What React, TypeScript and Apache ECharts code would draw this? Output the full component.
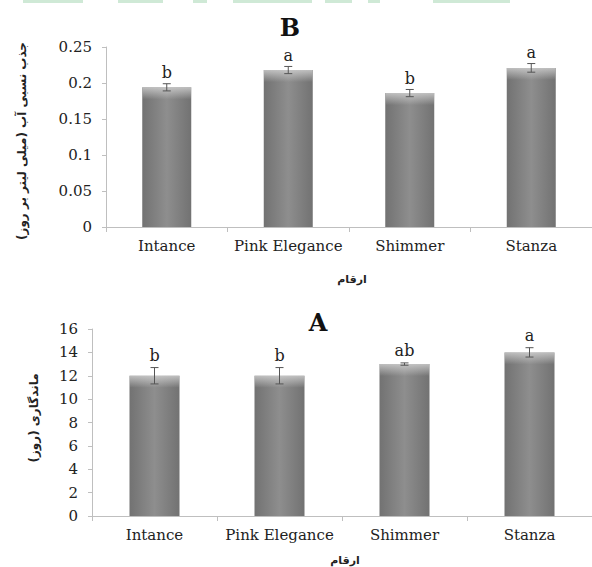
import React, { useEffect, useRef } from "react";
import * as echarts from "echarts";

const categories = ["Intance", "Pink Elegance", "Shimmer", "Stanza"];

// Chart B: relative water uptake
const uptakeValues = [0.194, 0.218, 0.186, 0.221];
const uptakeErrors = [0.005, 0.005, 0.005, 0.006];
const uptakeLetters = ["b", "a", "b", "a"];
const uptakeTicks = { min: 0, max: 0.25, interval: 0.05 };

// Chart A: vase life (days)
const lifeValues = [12, 12, 13, 14];
const lifeErrors = [0.7, 0.7, 0.1, 0.4];
const lifeLetters = ["b", "b", "ab", "a"];
const lifeTicks = { min: 0, max: 16, interval: 2 };

const serif = "DejaVu Serif";
const persian = "DejaVu Sans";

const barColor = new echarts.graphic.LinearGradient(0, 0, 1, 0, [
  { offset: 0, color: "#727272" },
  { offset: 0.5, color: "#8e8e8e" },
  { offset: 1, color: "#727272" },
]);

function errorSeries(values: number[], errors: number[], letters: string[], xIdx: number, gap: number) {
  return {
    type: "custom",
    xAxisIndex: xIdx,
    yAxisIndex: xIdx,
    z: 5,
    data: values.map((v, i) => [i, v, errors[i]]),
    encode: { x: 0, y: 1 },
    renderItem: (params: any, api: any) => {
      const i = api.value(0);
      const v = api.value(1);
      const e = api.value(2);
      const top = api.coord([i, v + e]);
      const bot = api.coord([i, v - e]);
      const mid = api.coord([i, v]);
      const bw = api.size([1, 0])[0] * 0.4;
      const cap = 4;
      return {
        type: "group",
        children: [
          {
            type: "rect",
            shape: { x: mid[0] - bw / 2, y: mid[1], width: bw, height: 12 },
            style: {
              fill: new echarts.graphic.LinearGradient(0, 0, 0, 1, [
                { offset: 0, color: "rgba(215,215,215,0.75)" },
                { offset: 1, color: "rgba(215,215,215,0)" },
              ]),
            },
          },
          { type: "line", shape: { x1: top[0], y1: top[1], x2: bot[0], y2: bot[1] }, style: { stroke: "#555", lineWidth: 1 } },
          { type: "line", shape: { x1: top[0] - cap, y1: top[1], x2: top[0] + cap, y2: top[1] }, style: { stroke: "#555", lineWidth: 1 } },
          { type: "line", shape: { x1: bot[0] - cap, y1: bot[1], x2: bot[0] + cap, y2: bot[1] }, style: { stroke: "#555", lineWidth: 1 } },
          {
            type: "text",
            x: top[0],
            y: top[1] - gap,
            style: {
              text: letters[params.dataIndex],
              font: `16px '${serif}'`,
              fill: "#222",
              align: "center",
              verticalAlign: "bottom",
            },
          },
        ],
      };
    },
  };
}

const greenStrips = [
  [23, 60], [118, 45], [193, 14], [233, 79], [325, 27], [368, 12], [433, 77],
];

export default function App() {
  const ref = useRef<HTMLDivElement>(null);
  useEffect(() => {
    document.body.style.margin = "0";
    const chart = echarts.init(ref.current!, null, { renderer: "svg" });
    const axisLine = { show: true, lineStyle: { color: "#bfbfbf", width: 1 } };
    const xAxisCommon = {
      type: "category",
      data: categories,
      axisLine,
      axisTick: { show: true, alignWithLabel: false, length: 5, lineStyle: { color: "#bfbfbf" } },
      axisLabel: { color: "#222", fontFamily: serif, fontSize: 15, margin: 11, interval: 0, hideOverlap: false },
      splitLine: { show: false },
    };
    const yAxisCommon = {
      type: "value",
      axisLine,
      axisTick: { show: true, length: 4, lineStyle: { color: "#bfbfbf" } },
      splitLine: { show: false },
    };
    chart.setOption({
      animation: false,
      backgroundColor: "#ffffff",
      grid: [
        { left: 106, width: 492, top: 47, height: 180 },
        { left: 92, width: 508, top: 329, height: 187 },
      ],
      xAxis: [
        { ...xAxisCommon, gridIndex: 0 },
        { ...xAxisCommon, gridIndex: 1 },
      ],
      yAxis: [
        {
          ...yAxisCommon,
          gridIndex: 0,
          ...uptakeTicks,
          axisLabel: { color: "#222", fontFamily: serif, fontSize: 15, margin: 14, formatter: (v: number) => String(+v.toFixed(2)) },
        },
        {
          ...yAxisCommon,
          gridIndex: 1,
          ...lifeTicks,
          axisLabel: { color: "#222", fontFamily: serif, fontSize: 15, margin: 14 },
        },
      ],
      series: [
        { type: "bar", xAxisIndex: 0, yAxisIndex: 0, data: uptakeValues, barWidth: 49, itemStyle: { color: barColor } },
        { type: "bar", xAxisIndex: 1, yAxisIndex: 1, data: lifeValues, barWidth: 50, itemStyle: { color: barColor } },
        errorSeries(uptakeValues, uptakeErrors, uptakeLetters, 0, 3),
        errorSeries(lifeValues, lifeErrors, lifeLetters, 1, 4),
      ],
      graphic: [
        ...greenStrips.map(([x, w]) => ({
          type: "rect",
          shape: { x, y: 0, width: w, height: 3 },
          style: { fill: "#cfe9d6" },
        })),
        { type: "text", x: 290, y: 27, style: { text: "B", font: `bold 24px '${serif}'`, fill: "#111", align: "center", verticalAlign: "middle" } },
        { type: "text", x: 318, y: 322, style: { text: "A", font: `bold 24px '${serif}'`, fill: "#111", align: "center", verticalAlign: "middle" } },
        { type: "text", x: 352, y: 279, style: { text: "ارقام", font: `bold 11px '${persian}'`, fill: "#222", align: "center", verticalAlign: "middle" } },
        { type: "text", x: 345, y: 560, style: { text: "ارقام", font: `bold 11px '${persian}'`, fill: "#222", align: "center", verticalAlign: "middle" } },
        {
          type: "text", x: 22, y: 141, rotation: Math.PI / 2,
          style: { text: "جذب نسبی آب (میلی لیتر بر روز)", font: `bold 12px '${persian}'`, fill: "#222", align: "center", verticalAlign: "middle" },
        },
        {
          type: "text", x: 34, y: 418, rotation: Math.PI / 2,
          style: { text: "ماندگاری (روز)", font: `bold 12px '${persian}'`, fill: "#222", align: "center", verticalAlign: "middle" },
        },
      ],
    });
    return () => chart.dispose();
  }, []);
  return <div ref={ref} style={{ width: 592, height: 567 }} />;
}
